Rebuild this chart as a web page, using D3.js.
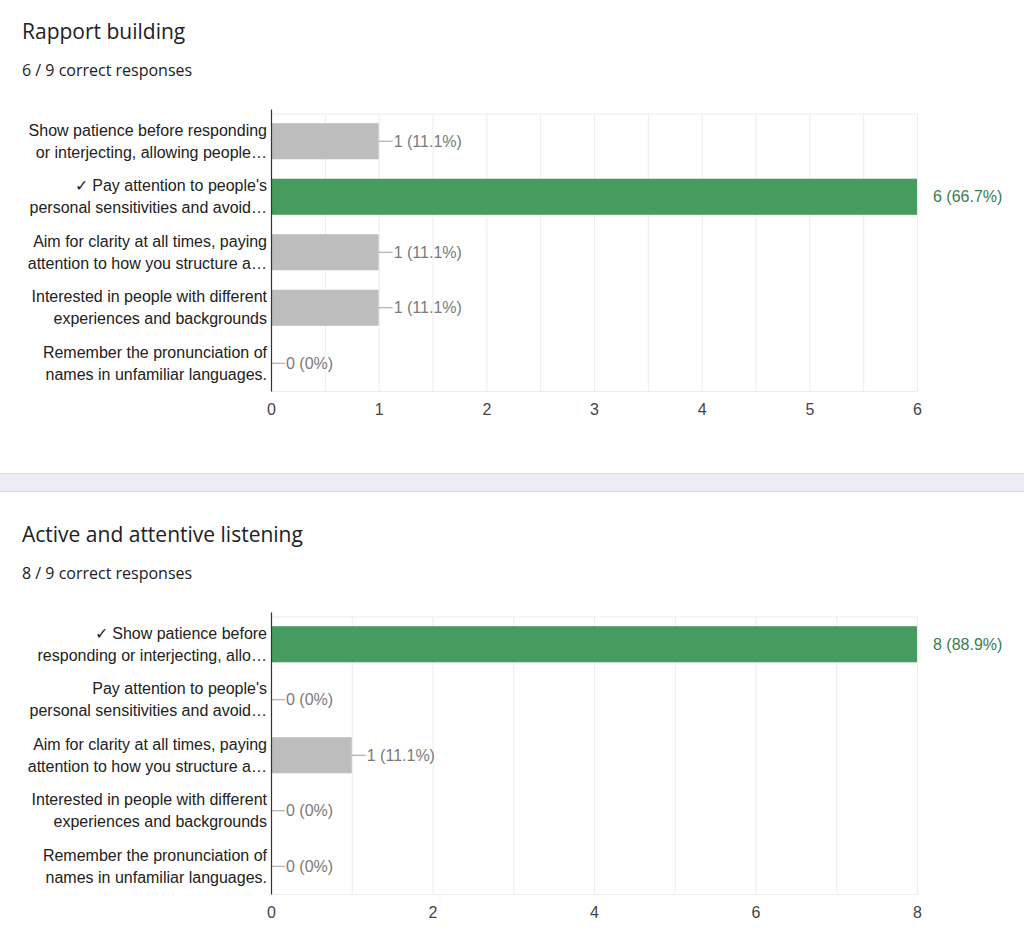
<!DOCTYPE html>
<html>
<head>
<meta charset="utf-8">
<script src="https://cdn.jsdelivr.net/npm/d3@7"></script>
<style>
  body { margin: 0; background: #fff; }
  svg { display: block; }
</style>
</head>
<body>
<script>
// Colours taken from the forms summary page
var green = "#459c5e";
var greenText = "#3a7d4e";
var grey = "#bdbdbd";
var greyText = "#7a7a7a";
var gridColor = "#ececec";

// Shared answer options (two wrapped lines each)
var labelsA = [
  ["Show patience before responding", "or interjecting, allowing people\u2026"],
  ["\u2713 Pay attention to people's", "personal sensitivities and avoid\u2026"],
  ["Aim for clarity at all times, paying", "attention to how you structure a\u2026"],
  ["Interested in people with different", "experiences and backgrounds"],
  ["Remember the pronunciation of", "names in unfamiliar languages."]
];
var labelsB = [
  ["\u2713 Show patience before", "responding or interjecting, allo\u2026"],
  ["Pay attention to people's", "personal sensitivities and avoid\u2026"],
  ["Aim for clarity at all times, paying", "attention to how you structure a\u2026"],
  ["Interested in people with different", "experiences and backgrounds"],
  ["Remember the pronunciation of", "names in unfamiliar languages."]
];

// Response counts
var countsA = [1, 6, 1, 1, 0];
var countsB = [8, 0, 1, 0, 0];
var correctA = [false, true, false, false, false];
var correctB = [true, false, false, false, false];
var total = 9;

// Axis ticks
var ticksA = [0, 1, 2, 3, 4, 5, 6];
var gridA = [0.5, 1, 1.5, 2, 2.5, 3, 3.5, 4, 4.5, 5, 5.5, 6];
var ticksB = [0, 2, 4, 6, 8];
var gridB = [1, 2, 3, 4, 5, 6, 7, 8];

var labelFont = "'Liberation Sans', Arial, sans-serif";
var headFont = "'Open Sans', Roboto, sans-serif";

var svg = d3.select("body").append("svg")
    .attr("width", 1024)
    .attr("height", 941);

// separator band between the two questions
svg.append("rect")
    .attr("x", -1).attr("y", 473.5)
    .attr("width", 1026).attr("height", 18)
    .attr("fill", "#eeebf6")
    .attr("stroke", "#dadce0");

function drawQuestion(opts) {
  var g = svg.append("g");

  g.append("text")
    .attr("x", 22).attr("y", opts.titleY)
    .attr("font-family", headFont)
    .attr("font-size", 21)
    .attr("fill", "#202124")
    .text(opts.title);

  g.append("text")
    .attr("x", 22).attr("y", opts.titleY + 37)
    .attr("font-family", headFont)
    .attr("font-size", 16)
    .attr("fill", "#202124")
    .text(opts.subtitle);

  var x = d3.scaleLinear().domain([0, opts.max]).range([271, 917]);
  var y = d3.scaleBand().domain(d3.range(opts.counts.length))
      .range([opts.top, opts.top + 277.5]).paddingInner(0.35).paddingOuter(0.175);

  // vertical grid
  g.selectAll(".grid").data(opts.grid).enter().append("line")
    .attr("x1", function (d) { return x(d) + 0.5; })
    .attr("x2", function (d) { return x(d) + 0.5; })
    .attr("y1", opts.top).attr("y2", opts.top + 277.5)
    .attr("stroke", gridColor);

  // top and bottom frame lines
  g.selectAll(".hframe").data([opts.top, opts.top + 277.5]).enter().append("line")
    .attr("x1", 271).attr("x2", 917.5)
    .attr("y1", function (d) { return d + 0.5; })
    .attr("y2", function (d) { return d + 0.5; })
    .attr("stroke", gridColor);

  // bars
  g.selectAll(".bar").data(opts.counts).enter().append("rect")
    .attr("x", x(0))
    .attr("y", function (d, i) { return y(i); })
    .attr("width", function (d) { return x(d) - x(0); })
    .attr("height", y.bandwidth())
    .attr("fill", function (d, i) { return opts.correct[i] ? green : grey; });

  // value labels with leader lines
  opts.counts.forEach(function (d, i) {
    var cy = y(i) + y.bandwidth() / 2;
    var pct = d === 0 ? "0%" : (d / total * 100).toFixed(1) + "%";
    var atEnd = d === opts.max;
    if (!atEnd) {
      g.append("line")
        .attr("x1", x(d)).attr("x2", x(d) + 14)
        .attr("y1", cy).attr("y2", cy)
        .attr("stroke", "#9e9e9e");
    }
    g.append("text")
      .attr("x", atEnd ? x(d) + 16 : x(d) + 15)
      .attr("y", cy + 5.5)
      .attr("font-family", labelFont)
      .attr("font-size", 16)
      .attr("fill", opts.correct[i] ? greenText : greyText)
      .text(d + " (" + pct + ")");
  });

  // category labels
  opts.labels.forEach(function (lines, i) {
    var cy = y(i) + y.bandwidth() / 2;
    var t = g.append("text")
      .attr("text-anchor", "end")
      .attr("font-family", labelFont)
      .attr("font-size", 16)
      .attr("fill", "#222");
    lines.forEach(function (line, k) {
      t.append("tspan")
        .attr("x", 267)
        .attr("y", cy - 11 + k * 22 + 5.5)
        .text(line);
    });
  });

  // y axis line
  g.append("line")
    .attr("x1", 271.5).attr("x2", 271.5)
    .attr("y1", opts.top - 4).attr("y2", opts.top + 278)
    .attr("stroke", "#333").attr("stroke-width", 1.2);

  // x axis tick labels
  var axis = g.append("g")
    .attr("transform", "translate(0," + (opts.top + 277.5) + ")")
    .call(d3.axisBottom(x).tickValues(opts.ticks).tickSize(0).tickPadding(13).tickFormat(d3.format("d")));
  axis.select(".domain").remove();
  axis.selectAll("text")
    .attr("font-family", labelFont)
    .attr("font-size", 16)
    .attr("fill", "#444");
}

drawQuestion({
  title: "Rapport building",
  subtitle: "6 / 9 correct responses",
  titleY: 39,
  top: 113.5,
  max: 6,
  counts: countsA,
  correct: correctA,
  labels: labelsA,
  ticks: ticksA,
  grid: gridA
});

drawQuestion({
  title: "Active and attentive listening",
  subtitle: "8 / 9 correct responses",
  titleY: 542,
  top: 616.5,
  max: 8,
  counts: countsB,
  correct: correctB,
  labels: labelsB,
  ticks: ticksB,
  grid: gridB
});
</script>
</body>
</html>
